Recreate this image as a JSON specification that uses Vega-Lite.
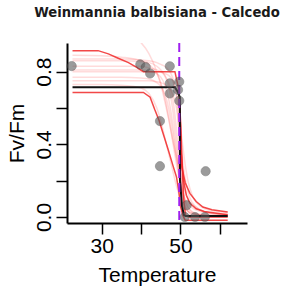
{
  "$schema": "https://vega.github.io/schema/vega-lite/v6.json",
  "width": 180,
  "height": 180,
  "autosize": "none",
  "padding": {"left": 67, "top": 43, "right": 34, "bottom": 70},
  "config": {"font": "Liberation Sans", "view": {"stroke": null},
    "axis": {"grid": false, "domainColor": "black", "domainWidth": 2, "tickColor": "black", "tickWidth": 1.5, "tickSize": 11,
      "labelColor": "black", "labelFontSize": 21, "labelFont": "Liberation Sans", "titleFont": "Liberation Sans", "titleFontSize": 21, "titleFontWeight": "normal", "titleColor": "black", "labelFlush": false, "labelOverlap": false}},
  "title": {"text": "Weinmannia balbisiana - Calcedo", "fontSize": 13.2, "fontWeight": "bold", "font": "DejaVu Sans", "anchor": "middle", "baseline": "alphabetic", "offset": 12, "color": "#1a1a1a"},
  "datasets": {
    "pink": [
      {"s":"p1","t":22.6,"v":0.89},{"s":"p1","t":30,"v":0.888},{"s":"p1","t":35,"v":0.88},{"s":"p1","t":40,"v":0.86},{"s":"p1","t":42,"v":0.84},{"s":"p1","t":44,"v":0.79},{"s":"p1","t":45,"v":0.74},{"s":"p1","t":46,"v":0.66},{"s":"p1","t":47,"v":0.55},{"s":"p1","t":48,"v":0.42},{"s":"p1","t":49,"v":0.29},{"s":"p1","t":50,"v":0.18},{"s":"p1","t":51,"v":0.11},{"s":"p1","t":52,"v":0.07},{"s":"p1","t":53,"v":0.05},{"s":"p1","t":55,"v":0.03},{"s":"p1","t":58,"v":0.02},{"s":"p1","t":62,"v":0.015},
      {"s":"p2","t":22.6,"v":0.86},{"s":"p2","t":30,"v":0.86},{"s":"p2","t":35,"v":0.86},{"s":"p2","t":40,"v":0.855},{"s":"p2","t":42,"v":0.85},{"s":"p2","t":44,"v":0.83},{"s":"p2","t":45,"v":0.81},{"s":"p2","t":46,"v":0.78},{"s":"p2","t":47,"v":0.72},{"s":"p2","t":48,"v":0.6},{"s":"p2","t":49,"v":0.4},{"s":"p2","t":50,"v":0.18},{"s":"p2","t":51,"v":0.07},{"s":"p2","t":52,"v":0.03},{"s":"p2","t":53,"v":0.02},{"s":"p2","t":55,"v":0.01},{"s":"p2","t":58,"v":0.01},{"s":"p2","t":62,"v":0.01},
      {"s":"p3","t":22.6,"v":0.83},{"s":"p3","t":30,"v":0.83},{"s":"p3","t":35,"v":0.83},{"s":"p3","t":40,"v":0.83},{"s":"p3","t":42,"v":0.82},{"s":"p3","t":44,"v":0.81},{"s":"p3","t":45,"v":0.8},{"s":"p3","t":46,"v":0.78},{"s":"p3","t":47,"v":0.74},{"s":"p3","t":48,"v":0.66},{"s":"p3","t":49,"v":0.48},{"s":"p3","t":50,"v":0.22},{"s":"p3","t":51,"v":0.08},{"s":"p3","t":52,"v":0.03},{"s":"p3","t":53,"v":0.01},{"s":"p3","t":55,"v":0.01},{"s":"p3","t":58,"v":0.005},{"s":"p3","t":62,"v":0.005},
      {"s":"p4","t":22.6,"v":0.8},{"s":"p4","t":30,"v":0.8},{"s":"p4","t":35,"v":0.8},{"s":"p4","t":40,"v":0.8},{"s":"p4","t":42,"v":0.8},{"s":"p4","t":44,"v":0.8},{"s":"p4","t":45,"v":0.8},{"s":"p4","t":46,"v":0.79},{"s":"p4","t":47,"v":0.78},{"s":"p4","t":48,"v":0.75},{"s":"p4","t":49,"v":0.66},{"s":"p4","t":50,"v":0.3},{"s":"p4","t":51,"v":0.05},{"s":"p4","t":52,"v":0.01},{"s":"p4","t":53,"v":0.005},{"s":"p4","t":55,"v":0},{"s":"p4","t":58,"v":0},{"s":"p4","t":62,"v":0},
      {"s":"p5","t":22.6,"v":0.77},{"s":"p5","t":30,"v":0.77},{"s":"p5","t":35,"v":0.77},{"s":"p5","t":40,"v":0.765},{"s":"p5","t":42,"v":0.76},{"s":"p5","t":44,"v":0.74},{"s":"p5","t":45,"v":0.72},{"s":"p5","t":46,"v":0.68},{"s":"p5","t":47,"v":0.6},{"s":"p5","t":48,"v":0.47},{"s":"p5","t":49,"v":0.32},{"s":"p5","t":50,"v":0.19},{"s":"p5","t":51,"v":0.1},{"s":"p5","t":52,"v":0.05},{"s":"p5","t":53,"v":0.03},{"s":"p5","t":55,"v":0.015},{"s":"p5","t":58,"v":0.01},{"s":"p5","t":62,"v":0.01},
      {"s":"p6","t":22.6,"v":0.75},{"s":"p6","t":30,"v":0.75},{"s":"p6","t":35,"v":0.75},{"s":"p6","t":40,"v":0.75},{"s":"p6","t":42,"v":0.75},{"s":"p6","t":44,"v":0.745},{"s":"p6","t":45,"v":0.74},{"s":"p6","t":46,"v":0.73},{"s":"p6","t":47,"v":0.71},{"s":"p6","t":48,"v":0.68},{"s":"p6","t":49,"v":0.6},{"s":"p6","t":50,"v":0.42},{"s":"p6","t":51,"v":0.24},{"s":"p6","t":52,"v":0.13},{"s":"p6","t":53,"v":0.08},{"s":"p6","t":55,"v":0.04},{"s":"p6","t":58,"v":0.02},{"s":"p6","t":62,"v":0.015},
      {"s":"p7","t":22.6,"v":0.73},{"s":"p7","t":30,"v":0.73},{"s":"p7","t":35,"v":0.725},{"s":"p7","t":40,"v":0.71},{"s":"p7","t":42,"v":0.68},{"s":"p7","t":44,"v":0.6},{"s":"p7","t":45,"v":0.53},{"s":"p7","t":46,"v":0.44},{"s":"p7","t":47,"v":0.35},{"s":"p7","t":48,"v":0.26},{"s":"p7","t":49,"v":0.17},{"s":"p7","t":50,"v":0.1},{"s":"p7","t":51,"v":0.05},{"s":"p7","t":52,"v":0.03},{"s":"p7","t":53,"v":0.02},{"s":"p7","t":55,"v":0.01},{"s":"p7","t":58,"v":0.005},{"s":"p7","t":62,"v":0.005},
      {"s":"p8","t":22.6,"v":0.87},{"s":"p8","t":30,"v":0.87},{"s":"p8","t":35,"v":0.87},{"s":"p8","t":40,"v":0.865},{"s":"p8","t":42,"v":0.86},{"s":"p8","t":44,"v":0.85},{"s":"p8","t":45,"v":0.84},{"s":"p8","t":46,"v":0.83},{"s":"p8","t":47,"v":0.81},{"s":"p8","t":48,"v":0.77},{"s":"p8","t":49,"v":0.68},{"s":"p8","t":50,"v":0.5},{"s":"p8","t":51,"v":0.32},{"s":"p8","t":52,"v":0.19},{"s":"p8","t":53,"v":0.12},{"s":"p8","t":55,"v":0.06},{"s":"p8","t":58,"v":0.035},{"s":"p8","t":62,"v":0.025},
      {"s":"p9","t":22.6,"v":1.05},{"s":"p9","t":30,"v":1.04},{"s":"p9","t":35,"v":1.02},{"s":"p9","t":40,"v":0.96},{"s":"p9","t":42,"v":0.9},{"s":"p9","t":44,"v":0.8},{"s":"p9","t":45,"v":0.73},{"s":"p9","t":46,"v":0.64},{"s":"p9","t":47,"v":0.54},{"s":"p9","t":48,"v":0.43},{"s":"p9","t":49,"v":0.33},{"s":"p9","t":50,"v":0.24},{"s":"p9","t":51,"v":0.16},{"s":"p9","t":52,"v":0.1},{"s":"p9","t":53,"v":0.07},{"s":"p9","t":55,"v":0.04},{"s":"p9","t":58,"v":0.02},{"s":"p9","t":62,"v":0.01},
      {"s":"p10","t":22.6,"v":0.81},{"s":"p10","t":30,"v":0.81},{"s":"p10","t":35,"v":0.81},{"s":"p10","t":40,"v":0.81},{"s":"p10","t":42,"v":0.805},{"s":"p10","t":44,"v":0.79},{"s":"p10","t":45,"v":0.77},{"s":"p10","t":46,"v":0.73},{"s":"p10","t":47,"v":0.65},{"s":"p10","t":48,"v":0.52},{"s":"p10","t":49,"v":0.35},{"s":"p10","t":50,"v":0.2},{"s":"p10","t":51,"v":0.1},{"s":"p10","t":52,"v":0.05},{"s":"p10","t":53,"v":0.025},{"s":"p10","t":55,"v":0.01},{"s":"p10","t":58,"v":0.005},{"s":"p10","t":62,"v":0.005}
    ],
    "red": [
      {"s":"up","t":22.6,"v":0.916},{"s":"up","t":29.1,"v":0.916},{"s":"up","t":31.7,"v":0.898},{"s":"up","t":34.2,"v":0.874},{"s":"up","t":36.8,"v":0.85},{"s":"up","t":38.9,"v":0.824},{"s":"up","t":40.6,"v":0.8},{"s":"up","t":48.6,"v":0.8},{"s":"up","t":49.6,"v":0.7},{"s":"up","t":50.1,"v":0.5},{"s":"up","t":50.5,"v":0.25},{"s":"up","t":50.9,"v":0.08},{"s":"up","t":51.3,"v":0.01},{"s":"up","t":52,"v":0.0},{"s":"up","t":62,"v":0.0},
      {"s":"low","t":22.6,"v":0.686},{"s":"low","t":40.6,"v":0.686},{"s":"low","t":42.3,"v":0.66},{"s":"low","t":43.5,"v":0.59},{"s":"low","t":44.6,"v":0.53},{"s":"low","t":45.3,"v":0.48},{"s":"low","t":46.9,"v":0.37},{"s":"low","t":48.2,"v":0.276},{"s":"low","t":49.0,"v":0.22},{"s":"low","t":49.6,"v":0.14},{"s":"low","t":50.0,"v":0.06},{"s":"low","t":50.6,"v":0.01},{"s":"low","t":51.2,"v":-0.018},{"s":"low","t":62,"v":-0.018},
      {"s":"tail","t":49.6,"v":0.72},{"s":"tail","t":50.0,"v":0.5},{"s":"tail","t":50.3,"v":0.28},{"s":"tail","t":51.2,"v":0.19},{"s":"tail","t":52.4,"v":0.13},{"s":"tail","t":54,"v":0.085},{"s":"tail","t":55.7,"v":0.055},{"s":"tail","t":58,"v":0.04},{"s":"tail","t":62,"v":0.028},
      {"s":"tail2","t":50.2,"v":0.35},{"s":"tail2","t":50.8,"v":0.2},{"s":"tail2","t":51.5,"v":0.12},{"s":"tail2","t":52.4,"v":0.075},{"s":"tail2","t":54,"v":0.045},{"s":"tail2","t":56,"v":0.03},{"s":"tail2","t":62,"v":0.012}
    ],
    "black": [
      {"t":22.6,"v":0.714},{"t":48.6,"v":0.714},{"t":49.3,"v":0.69},{"t":49.85,"v":0.66},{"t":49.9,"v":0.2},{"t":50.4,"v":0.06},{"t":50.9,"v":0.01},{"t":51.3,"v":0.005},{"t":62,"v":0.005}
    ],
    "vline": [{"t":49.7}],
    "pts": [
      {"t":22.4,"v":0.831},{"t":39.8,"v":0.84},{"t":41.2,"v":0.825},{"t":42.3,"v":0.79},{"t":47.3,"v":0.83},{"t":47.3,"v":0.736},{"t":47.3,"v":0.68},{"t":49.7,"v":0.745},{"t":49.4,"v":0.7},{"t":49.7,"v":0.64},{"t":44.8,"v":0.528},{"t":44.8,"v":0.28},{"t":56.4,"v":0.252},{"t":51.6,"v":0.065},{"t":51.1,"v":0.0},{"t":53.7,"v":0.0},{"t":56.2,"v":0.0}
    ]
  },
  "layer": [
    {
      "data": {"name": "pink"},
      "mark": {"type": "line", "color": "#ff2020", "opacity": 0.16, "strokeWidth": 1.5, "clip": true, "interpolate": "monotone"},
      "encoding": {
        "x": {"field": "t", "type": "quantitative", "scale": {"domain": [21.2, 66.9], "nice": false, "zero": false}, "title": "Temperature",
          "axis": {"values": [30, 40, 50, 60], "labelExpr": "datum.value == 30 || datum.value == 50 ? datum.label : ''", "labelPadding": 1, "titlePadding": 8}},
        "y": {"field": "v", "type": "quantitative", "scale": {"domain": [-0.033, 0.958], "nice": false, "zero": false}, "title": "Fv/Fm",
          "axis": {"values": [0, 0.2, 0.4, 0.6, 0.8], "labelExpr": "abs(datum.value-0.2)<0.01 || abs(datum.value-0.6)<0.01 ? '' : format(datum.value, '.1f')", "labelAngle": -90, "labelPadding": 2, "titlePadding": 6}},
        "detail": {"field": "s"}
      }
    },
    {
      "data": {"name": "red"},
      "mark": {"type": "line", "color": "#f02828", "opacity": 0.85, "strokeWidth": 1.5, "clip": true},
      "encoding": {
        "x": {"field": "t", "type": "quantitative", "title": "Temperature"},
        "y": {"field": "v", "type": "quantitative", "title": "Fv/Fm"},
        "detail": {"field": "s"}
      }
    },
    {
      "data": {"name": "black"},
      "mark": {"type": "line", "color": "#111111", "strokeWidth": 2, "clip": true},
      "encoding": {
        "x": {"field": "t", "type": "quantitative", "title": "Temperature"},
        "y": {"field": "v", "type": "quantitative", "title": "Fv/Fm"}
      }
    },
    {
      "data": {"name": "vline"},
      "mark": {"type": "rule", "color": "#a020f0", "strokeWidth": 2, "strokeDash": [9, 5]},
      "encoding": {
        "x": {"field": "t", "type": "quantitative", "title": "Temperature"}
      }
    },
    {
      "data": {"name": "pts"},
      "mark": {"type": "point", "filled": true, "color": "#5a5a5a", "opacity": 0.6, "size": 85, "stroke": "#333333", "strokeWidth": 1, "strokeOpacity": 0.6},
      "encoding": {
        "x": {"field": "t", "type": "quantitative", "title": "Temperature"},
        "y": {"field": "v", "type": "quantitative", "title": "Fv/Fm"}
      }
    }
  ]
}
